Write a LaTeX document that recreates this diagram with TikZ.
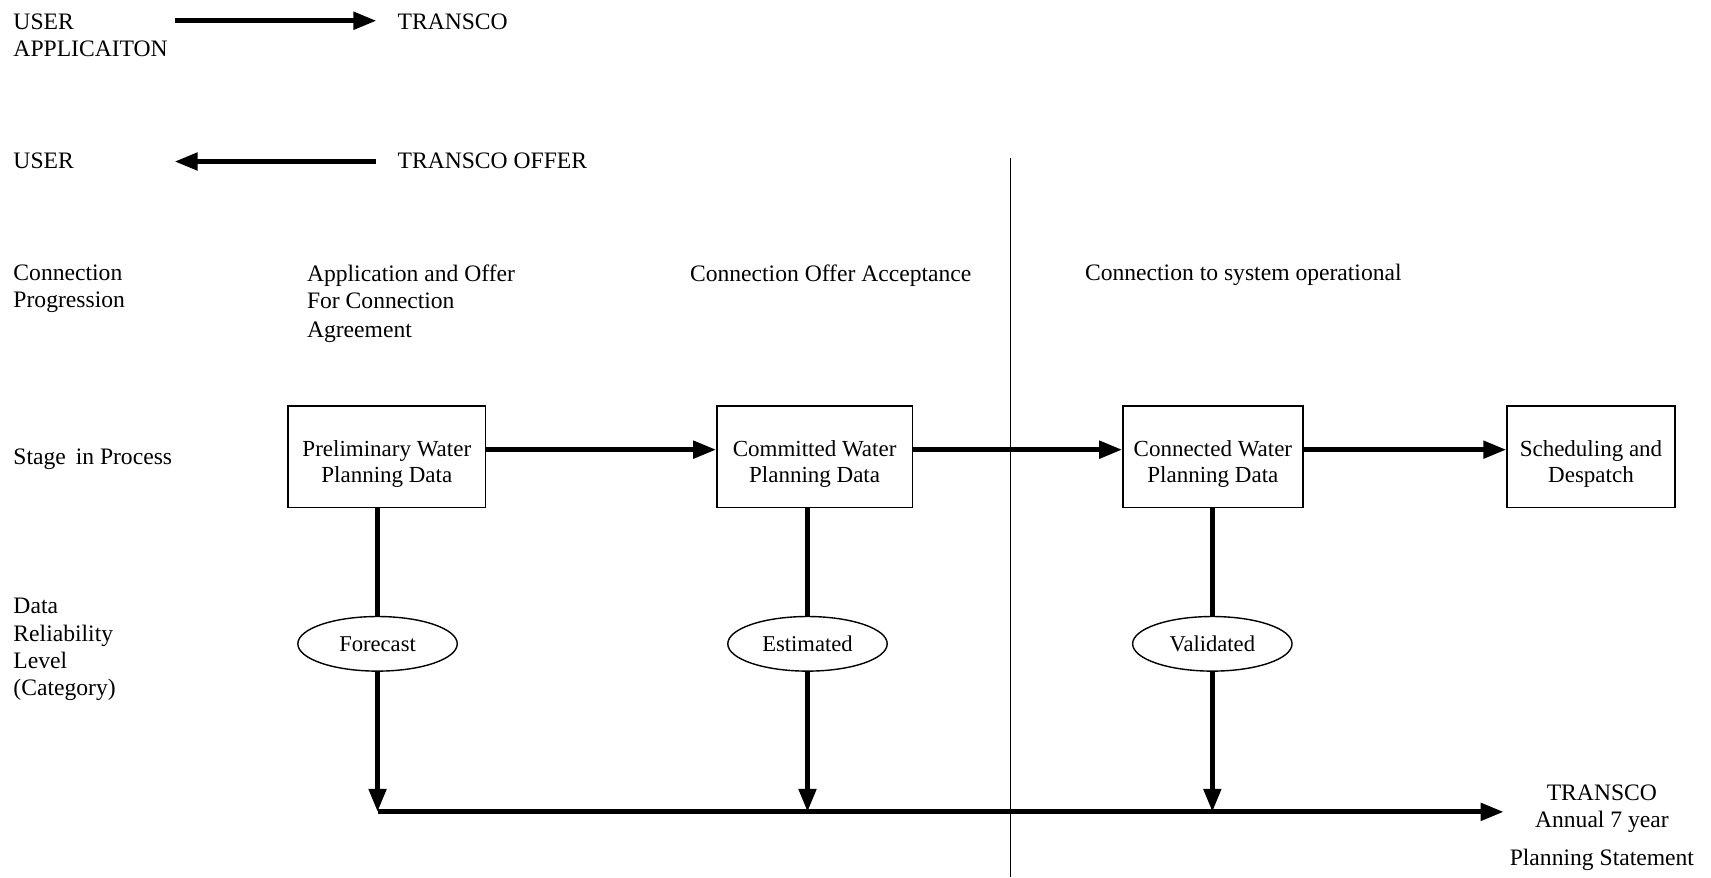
\documentclass[tikz,border=0pt]{standalone}
\usepackage{fontspec}
\setmainfont{Liberation Serif}
\usetikzlibrary{arrows.meta,shapes.geometric}

% two lines of a stage box, set a little below the middle
\newcommand{\stagetext}[2]{\raisebox{-3.7pt}[\height][\depth]{#1}\\\raisebox{-3.7pt}[\height][\depth]{#2}}

\begin{document}
\begin{tikzpicture}[x=0.5456pt,y=-0.5456pt,
		rowlabel/.style={anchor=north west, inner sep=0pt, align=left, font=\fontsize{11.8}{13.6}\selectfont},
		stagebox/.style={draw, line width=0.7pt, minimum height=50.7pt, align=center, inner sep=0pt, font=\fontsize{11.5}{13.2}\selectfont},
		level/.style={draw, ellipse, line width=0.7pt, minimum width=79.7pt, minimum height=27.3pt, inner sep=0pt, font=\fontsize{11.3}{13.2}\selectfont},
		flow/.style={line width=2.45pt},
		tip/.style={-{Triangle[length=11.5pt,width=8.5pt]}}
			]
	\useasboundingbox (0,0) rectangle (1568,804);

	% left hand legend
	\node[rowlabel] (userapp) at (12,12) {USER\\APPLICAITON};
	\node[rowlabel] (transco) at (364,12) {TRANSCO};
	\node[rowlabel] (user) at (12,140) {USER};
	\node[rowlabel] (transcooffer) at (364,140) {TRANSCO OFFER};
	\coordinate (appfrom) at (160,19);
	\coordinate (appto) at (345,19);
	\coordinate (offerfrom) at (345,148);
	\coordinate (offerto) at (160,148);
	\draw[flow,tip] (appfrom) -- (appto);
	\draw[flow,tip] (offerfrom) -- (offerto);

	\node[rowlabel] (progression) at (12,242) {Connection\\Progression};
	\node[rowlabel] (application) at (281,242) {Application and Offer\\For Connection\\[1pt]Agreement};
	\node[rowlabel] (acceptance) at (632,242) {Connection Offer Acceptance};
	\node[rowlabel] (operational) at (994,242) {Connection to system operational};
	\node[rowlabel] (stage) at (12,411) {Stage \,in Process};
	\node[rowlabel] (reliability) at (12,548) {Data\\Reliability\\Level\\(Category)};

	% stages
	\node[stagebox, minimum width=98.8pt] (prelim) at (354.5,418.5) {\stagetext{Preliminary Water}{Planning Data}};
	\node[stagebox, minimum width=97.7pt] (committed) at (746.5,418.5) {\stagetext{Committed Water}{Planning Data}};
	\node[stagebox, minimum width=90pt] (connected) at (1111.5,418.5) {\stagetext{Connected Water}{Planning Data}};
	\node[stagebox, minimum width=84pt] (despatch) at (1458,418.5) {\stagetext{Scheduling and}{Despatch}};

	\draw[flow,tip] ([yshift=3.5pt]prelim.east) -- ([yshift=3.5pt]committed.west);
	\draw[flow,tip] ([yshift=3.5pt]committed.east) -- ([yshift=3.5pt]connected.west);
	\draw[flow,tip] ([yshift=3.5pt]connected.east) -- ([yshift=3.5pt]despatch.west);

	% reliability levels
	\node[level] (forecast) at (346,590) {Forecast};
	\node[level] (estimated) at (740,590) {Estimated};
	\node[level] (validated) at (1111,590) {Validated};

	\node[anchor=north, inner sep=0pt, align=center, font=\fontsize{11.8}{13.6}\selectfont] (statement) at (1468,719) {TRANSCO\\Annual 7 year\\[5pt]Planning Statement};
	\coordinate (statementin) at (1378,744);

	\draw[flow] (forecast |- prelim.south) -- (forecast);
	\draw[flow] (estimated |- committed.south) -- (estimated);
	\draw[flow] (validated |- connected.south) -- (validated);
	\draw[flow,tip] (forecast) -- (forecast |- statementin);
	\draw[flow,tip] (estimated) -- (estimated |- statementin);
	\draw[flow,tip] (validated) -- (validated |- statementin);
	\draw[flow,tip] (forecast |- statementin) -- (statementin);

	% divider
	\draw[line width=0.7pt] (926,145) -- (926,804);
\end{tikzpicture}
\end{document}
